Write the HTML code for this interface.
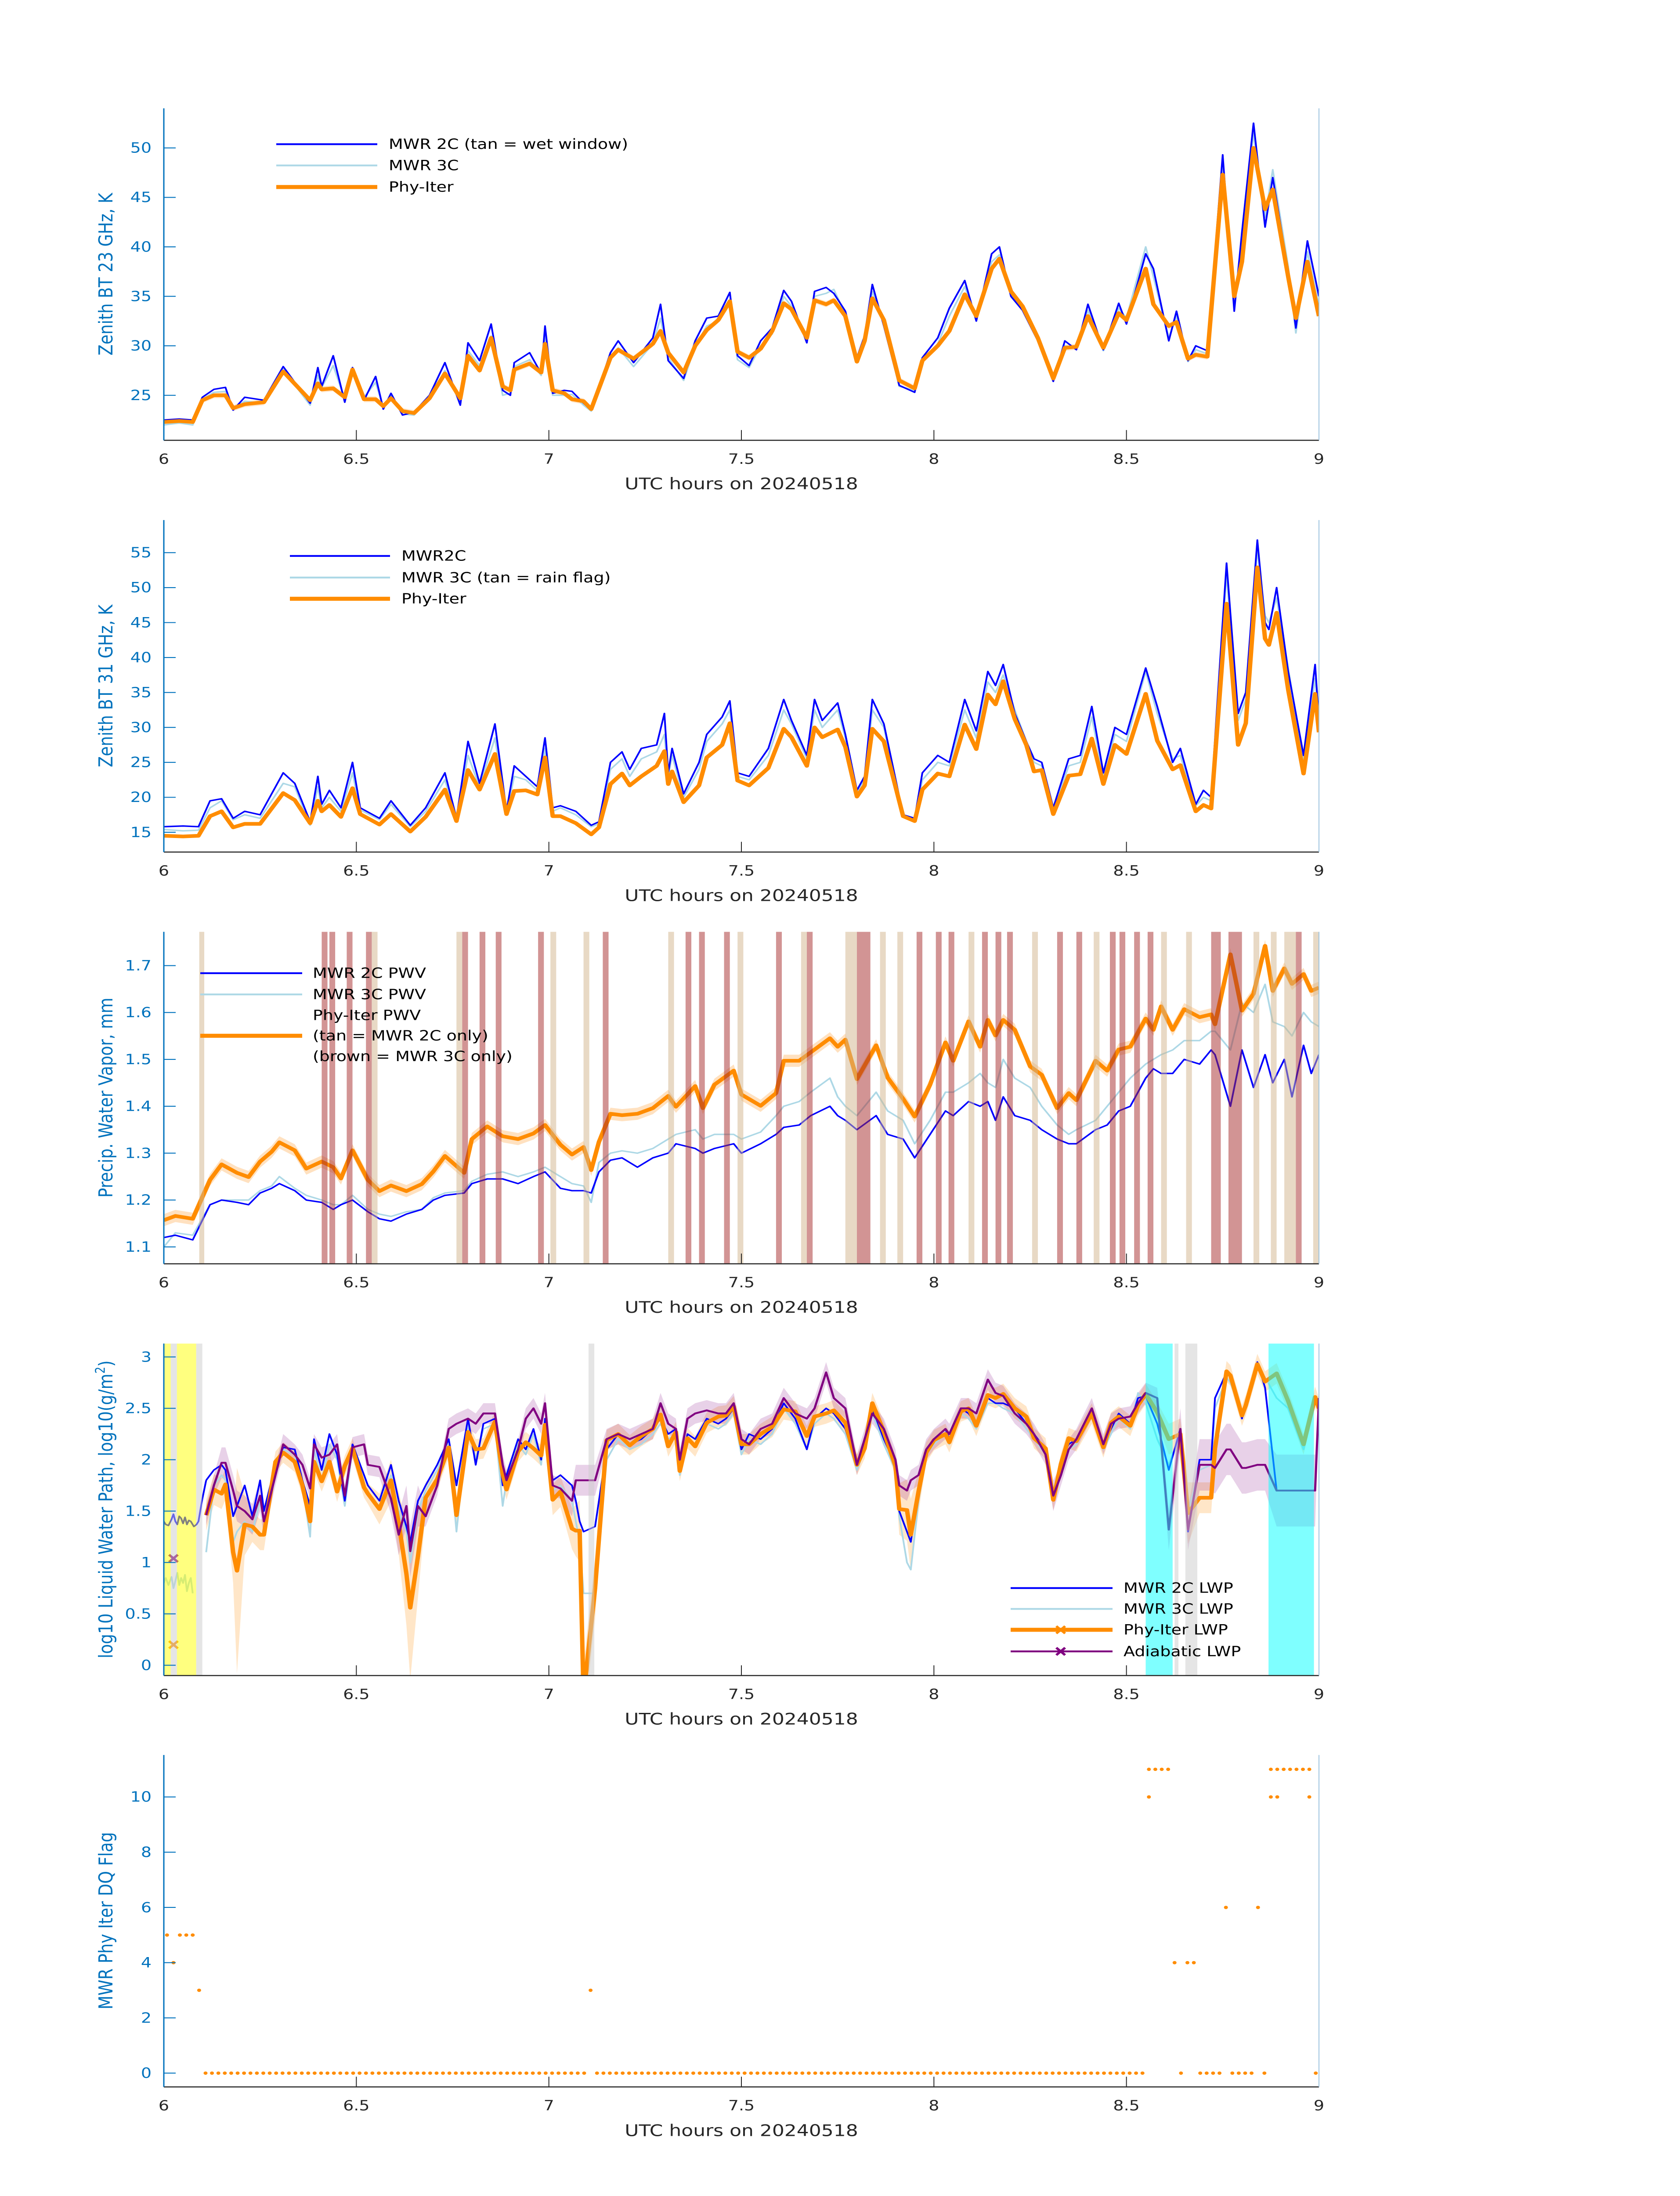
<!DOCTYPE html>
<html><head><meta charset="utf-8"><title>MWR Phy-Iter comparison 20240518</title>
<style>
html,body{margin:0;padding:0;background:#fff;width:100%;height:100%;overflow:hidden;}
svg{display:block;position:fixed;left:0;top:0;width:100vw;height:100vh;font-family:"DejaVu Sans","Liberation Sans",sans-serif;}
</style></head>
<body>
<svg id="chart" xmlns="http://www.w3.org/2000/svg" viewBox="0 0 3825 6000" preserveAspectRatio="none">
<rect x="0" y="0" width="3825" height="6000" fill="#ffffff"/>
<defs>
<clipPath id="clip0"><rect x="373" y="296" width="2630" height="907"/></clipPath>
<clipPath id="clip1"><rect x="373" y="1421" width="2630" height="907"/></clipPath>
<clipPath id="clip2"><rect x="373" y="2546" width="2630" height="907"/></clipPath>
<clipPath id="clip3"><rect x="373" y="3671" width="2630" height="907"/></clipPath>
<clipPath id="clip4"><rect x="373" y="4795" width="2630" height="907"/></clipPath>
</defs>
<g fill="#0072BD" font-size="44" text-anchor="middle">
<text transform="translate(256,749) rotate(-90)">Zenith BT 23 GHz, K</text>
<text transform="translate(256,1874) rotate(-90)">Zenith BT 31 GHz, K</text>
<text transform="translate(256,2999) rotate(-90)">Precip. Water Vapor, mm</text>
<text transform="translate(256,4124) rotate(-90)">log10 Liquid Water Path, log10(g/m<tspan baseline-shift="super" font-size="30">2</tspan>)</text>
<text transform="translate(256,5248) rotate(-90)">MWR Phy Iter DQ Flag</text>
</g>
<g fill="#262626" font-size="44" text-anchor="middle">
<text x="1688" y="1337">UTC hours on 20240518</text>
<text x="1688" y="2462">UTC hours on 20240518</text>
<text x="1688" y="3587">UTC hours on 20240518</text>
<text x="1688" y="4712">UTC hours on 20240518</text>
<text x="1688" y="5836">UTC hours on 20240518</text>
</g>
<g id="marks"></g>
<g font-size="38" fill="#000">
<line x1="629" y1="394" x2="859" y2="394" stroke="#0000FF" stroke-width="5"/>
<text x="885" y="407">MWR 2C (tan = wet window)</text>
<line x1="629" y1="452" x2="859" y2="452" stroke="#ADD8E6" stroke-width="5"/>
<text x="885" y="465">MWR 3C</text>
<line x1="629" y1="511" x2="859" y2="511" stroke="#FF8C00" stroke-width="11"/>
<text x="885" y="524">Phy-Iter</text>
</g>
<g font-size="38" fill="#000">
<line x1="660" y1="1519" x2="888" y2="1519" stroke="#0000FF" stroke-width="5"/>
<text x="914" y="1532">MWR2C</text>
<line x1="660" y1="1578" x2="888" y2="1578" stroke="#ADD8E6" stroke-width="5"/>
<text x="914" y="1591">MWR 3C (tan = rain flag)</text>
<line x1="660" y1="1636" x2="888" y2="1636" stroke="#FF8C00" stroke-width="11"/>
<text x="914" y="1649">Phy-Iter</text>
</g>
<g font-size="38" fill="#000">
<line x1="456" y1="2659" x2="688" y2="2659" stroke="#0000FF" stroke-width="5"/>
<text x="712" y="2672">MWR 2C PWV</text>
<line x1="456" y1="2717" x2="688" y2="2717" stroke="#ADD8E6" stroke-width="5"/>
<text x="712" y="2730">MWR 3C PWV</text>
<text x="712" y="2787">Phy-Iter PWV</text>
<line x1="456" y1="2830" x2="688" y2="2830" stroke="#FF8C00" stroke-width="11"/>
<text x="712" y="2843">(tan = MWR 2C only)</text>
<text x="712" y="2899">(brown = MWR 3C only)</text>
</g>
<g font-size="38" fill="#000">
<line x1="2301" y1="4339" x2="2533" y2="4339" stroke="#0000FF" stroke-width="5"/>
<text x="2558" y="4352">MWR 2C LWP</text>
<line x1="2301" y1="4396" x2="2533" y2="4396" stroke="#ADD8E6" stroke-width="5"/>
<text x="2558" y="4409">MWR 3C LWP</text>
<line x1="2301" y1="4453" x2="2533" y2="4453" stroke="#FF8C00" stroke-width="11"/>
<path d="M2405 4443 L2425 4463 M2425 4443 L2405 4463" stroke="#FF8C00" stroke-width="6"/>
<text x="2558" y="4466">Phy-Iter LWP</text>
<line x1="2301" y1="4512" x2="2533" y2="4512" stroke="#800080" stroke-width="5"/>
<path d="M2405 4502 L2425 4522 M2425 4502 L2405 4522" stroke="#800080" stroke-width="6"/>
<text x="2558" y="4525">Adiabatic LWP</text>
</g>
</svg>
<script>
// ---------- axis settings ----------
const xTicks = [6, 6.5, 7, 7.5, 8, 8.5, 9];
const xTickLabels = ['6', '6.5', '7', '7.5', '8', '8.5', '9'];
const p1Ticks = [25, 30, 35, 40, 45, 50];
const p2Ticks = [15, 20, 25, 30, 35, 40, 45, 50, 55];
const p3Ticks = [1.1, 1.2, 1.3, 1.4, 1.5, 1.6, 1.7];
const p4Ticks = [0, 0.5, 1, 1.5, 2, 2.5, 3];
const p5Ticks = [0, 2, 4, 6, 8, 10];

// ---------- panel 1: 23 GHz ----------
const p1Times = [6.0,6.04,6.075,6.10,6.13,6.16,6.18,6.21,6.26,6.31,6.38,6.40,6.41,6.44,6.47,6.49,6.52,6.55,6.57,6.59,6.62,6.65,6.69,6.73,6.77,6.79,6.82,6.85,6.88,6.90,6.91,6.95,6.98,6.99,7.01,7.04,7.06,7.09,7.11,7.16,7.18,7.22,7.27,7.29,7.31,7.35,7.38,7.41,7.44,7.47,7.49,7.52,7.55,7.58,7.61,7.63,7.67,7.69,7.72,7.74,7.77,7.80,7.82,7.84,7.87,7.91,7.95,7.97,8.01,8.04,8.08,8.11,8.15,8.17,8.20,8.23,8.27,8.31,8.34,8.37,8.40,8.44,8.48,8.50,8.55,8.57,8.61,8.63,8.66,8.68,8.71,8.75,8.78,8.80,8.83,8.86,8.88,8.92,8.94,8.97,9.0];
const p1Phy = [22.3,22.4,22.3,24.5,25.0,25.0,23.7,24.1,24.3,27.4,24.5,26.2,25.6,25.7,24.8,27.6,24.6,24.6,23.9,24.7,23.4,23.2,24.7,27.2,24.7,29.0,27.5,30.8,25.9,25.5,27.6,28.2,27.3,30.2,25.5,25.2,24.6,24.4,23.6,28.8,29.6,28.7,30.2,31.5,29.3,27.3,30.0,31.6,32.6,34.5,29.4,28.8,29.7,31.5,34.3,33.7,30.8,34.6,34.2,34.6,33.0,28.4,30.5,34.8,32.6,26.5,25.7,28.5,30.0,31.5,35.2,33.0,37.8,38.8,35.5,34.0,30.8,26.7,29.8,29.9,33.0,29.8,33.3,32.6,37.8,34.2,32.0,32.4,28.7,29.1,28.9,47.3,35.0,38.5,50.0,43.8,45.8,37.0,32.8,38.5,33.0];
const p1Mwr2c = [22.5,22.6,22.5,24.8,25.6,25.8,23.5,24.8,24.5,27.9,24.2,27.8,25.9,29.0,24.3,27.8,24.5,26.9,23.6,25.2,23.0,23.3,25.0,28.3,24.0,30.3,28.5,32.2,25.5,25.0,28.3,29.3,27.2,32.0,25.2,25.5,25.4,24.2,23.5,29.3,30.5,28.3,30.8,34.2,28.5,26.7,30.5,32.8,33.0,35.4,29.0,28.0,30.5,31.8,35.6,34.5,30.3,35.5,35.9,35.3,33.5,28.8,31.0,36.2,32.0,26.0,25.3,28.8,30.8,33.8,36.6,32.5,39.3,40.0,35.0,33.6,30.5,26.4,30.5,29.6,34.2,29.6,34.3,32.2,39.3,37.8,30.5,33.5,28.5,30.0,29.5,49.3,33.5,41.5,52.5,42.0,47.0,37.5,31.8,40.6,35.0];
const p1Mwr3c = [22.0,22.2,22.0,24.6,25.3,25.4,23.6,24.4,24.2,27.6,24.0,27.0,25.8,28.0,24.6,27.3,24.8,26.3,23.8,24.9,23.1,23.0,24.8,27.5,24.2,29.5,28.0,31.0,25.0,25.2,27.9,28.6,27.0,31.0,25.0,25.0,25.1,24.0,23.4,28.6,29.8,27.9,30.2,32.8,28.8,26.5,30.0,32.0,32.5,34.7,28.6,27.8,30.0,31.2,35.0,34.0,30.5,35.0,35.3,35.7,33.2,28.5,30.7,35.5,32.3,25.9,25.5,28.6,30.2,33.0,36.0,32.8,38.5,39.2,35.2,33.8,30.6,26.5,30.0,29.8,33.6,29.5,33.8,32.8,40.0,37.0,30.8,33.0,28.4,29.6,29.2,48.5,34.0,41.0,51.5,43.0,47.8,38.0,31.3,39.5,34.0];
const p1PhyErr = 0.3;

// ---------- panel 2: 31 GHz ----------
const p2Times = [6.0,6.05,6.09,6.12,6.15,6.18,6.21,6.25,6.31,6.34,6.38,6.40,6.41,6.43,6.46,6.49,6.51,6.56,6.59,6.64,6.68,6.73,6.76,6.79,6.82,6.86,6.89,6.91,6.94,6.97,6.99,7.01,7.03,7.07,7.11,7.13,7.16,7.19,7.21,7.24,7.28,7.30,7.31,7.32,7.35,7.39,7.41,7.45,7.47,7.49,7.52,7.57,7.61,7.63,7.67,7.69,7.71,7.75,7.77,7.80,7.82,7.84,7.87,7.92,7.95,7.97,8.01,8.04,8.08,8.11,8.14,8.16,8.18,8.21,8.24,8.26,8.28,8.31,8.35,8.38,8.41,8.44,8.47,8.50,8.55,8.58,8.62,8.64,8.68,8.70,8.72,8.76,8.79,8.81,8.84,8.86,8.87,8.89,8.92,8.96,8.99,9.0];
const p2Phy = [14.5,14.4,14.5,17.3,18.0,15.7,16.2,16.2,20.6,19.6,16.3,19.5,18.0,18.9,17.2,21.3,17.6,16.1,17.6,15.1,17.2,21.1,16.6,23.9,21.1,26.2,17.6,20.9,21.0,20.4,25.7,17.3,17.3,16.3,14.7,15.7,21.9,23.4,21.7,23.0,24.5,26.6,21.9,23.7,19.3,21.7,25.7,27.5,30.6,22.4,21.7,24.2,29.8,28.6,24.5,30.0,28.6,29.7,27.2,20.1,21.7,29.8,28.0,17.3,16.6,21.1,23.4,23.0,30.4,26.9,34.7,33.3,36.6,31.2,27.5,23.7,23.9,17.6,23.1,23.3,28.4,21.9,27.5,26.2,34.8,28.1,24.0,24.6,18.0,18.9,18.4,47.7,27.5,30.6,52.9,42.7,41.8,46.4,35.4,23.4,34.8,29.3];
const p2Mwr2c = [15.8,15.9,15.8,19.5,19.8,17.0,18.0,17.5,23.5,22.0,16.5,23.0,19.0,21.0,18.5,25.0,18.5,17.0,19.5,16.0,18.5,23.5,17.0,28.0,22.0,30.5,18.0,24.5,23.0,21.5,28.5,18.5,18.8,18.0,16.0,16.5,25.0,26.5,24.0,27.0,27.5,32.0,23.5,27.0,20.5,25.0,29.0,31.5,33.8,23.5,23.0,27.0,34.0,31.0,26.0,34.0,31.0,33.5,29.0,21.0,23.0,34.0,30.5,17.5,17.0,23.5,26.0,25.0,34.0,29.5,38.0,36.0,39.0,32.0,28.0,25.5,25.0,18.5,25.5,26.0,33.0,23.5,30.0,29.0,38.5,33.0,25.0,27.0,19.0,21.0,20.0,53.5,32.0,35.0,56.8,45.0,44.0,50.0,38.0,26.0,39.0,31.0];
const p2Mwr3c = [15.4,15.2,15.3,18.5,19.5,16.8,17.5,17.0,22.0,21.5,16.0,21.5,18.5,20.0,18.0,23.5,18.2,16.8,19.0,15.8,18.0,22.5,17.0,26.0,21.5,28.5,17.8,23.0,22.5,21.0,27.0,18.0,18.5,17.5,15.8,16.2,24.0,25.5,23.0,25.5,26.5,29.0,23.0,26.0,20.0,24.0,28.0,30.5,32.5,23.0,22.5,26.0,32.5,30.5,25.5,32.5,30.0,32.5,28.5,20.8,22.5,32.5,30.0,17.5,17.0,22.5,25.0,24.5,32.5,28.5,36.5,35.0,37.5,32.5,28.0,25.0,24.5,18.2,24.5,25.0,31.5,23.0,29.0,28.0,38.0,32.0,25.5,26.0,18.8,20.0,19.5,52.0,31.0,34.0,55.5,46.0,45.0,48.5,38.5,25.0,37.0,31.5];

// ---------- panel 3: PWV ----------
const p3Times = [6.0,6.03,6.075,6.12,6.15,6.19,6.22,6.25,6.28,6.30,6.34,6.37,6.41,6.44,6.46,6.49,6.53,6.56,6.59,6.63,6.67,6.70,6.73,6.78,6.80,6.84,6.88,6.92,6.96,6.99,7.03,7.06,7.09,7.11,7.13,7.16,7.19,7.23,7.27,7.31,7.33,7.38,7.40,7.43,7.48,7.50,7.55,7.59,7.61,7.65,7.68,7.73,7.75,7.77,7.80,7.85,7.88,7.92,7.95,7.99,8.03,8.05,8.09,8.12,8.14,8.16,8.18,8.21,8.25,8.28,8.32,8.35,8.37,8.42,8.45,8.48,8.51,8.55,8.57,8.59,8.62,8.65,8.69,8.72,8.73,8.77,8.80,8.83,8.86,8.88,8.91,8.93,8.96,8.98,9.0];
const p3Phy = [1.157,1.166,1.160,1.243,1.276,1.258,1.249,1.282,1.303,1.323,1.306,1.267,1.282,1.270,1.246,1.306,1.243,1.219,1.231,1.219,1.234,1.261,1.294,1.258,1.330,1.357,1.336,1.330,1.342,1.360,1.318,1.297,1.313,1.264,1.324,1.384,1.381,1.384,1.396,1.422,1.399,1.443,1.396,1.446,1.476,1.425,1.401,1.428,1.497,1.497,1.515,1.545,1.527,1.542,1.458,1.530,1.461,1.416,1.378,1.446,1.536,1.497,1.581,1.527,1.584,1.551,1.584,1.563,1.485,1.467,1.396,1.428,1.413,1.497,1.476,1.521,1.527,1.587,1.563,1.613,1.563,1.607,1.590,1.596,1.575,1.724,1.604,1.640,1.742,1.646,1.694,1.661,1.682,1.646,1.653];
const p3Mwr2c = [1.12,1.125,1.115,1.19,1.20,1.195,1.19,1.215,1.225,1.235,1.22,1.20,1.195,1.18,1.19,1.20,1.175,1.16,1.155,1.17,1.18,1.20,1.21,1.215,1.235,1.245,1.245,1.235,1.25,1.26,1.225,1.22,1.22,1.215,1.26,1.285,1.29,1.27,1.29,1.30,1.32,1.31,1.30,1.31,1.32,1.30,1.32,1.34,1.355,1.36,1.38,1.40,1.38,1.37,1.35,1.38,1.34,1.33,1.29,1.34,1.39,1.38,1.41,1.40,1.41,1.37,1.42,1.38,1.37,1.35,1.33,1.32,1.32,1.35,1.36,1.39,1.40,1.46,1.48,1.47,1.47,1.50,1.49,1.52,1.51,1.40,1.52,1.44,1.51,1.45,1.50,1.42,1.53,1.47,1.51];
const p3Mwr3c = [1.10,1.13,1.125,1.19,1.20,1.20,1.20,1.22,1.23,1.25,1.225,1.21,1.20,1.19,1.19,1.21,1.18,1.17,1.165,1.175,1.18,1.205,1.215,1.22,1.24,1.255,1.26,1.25,1.26,1.27,1.25,1.235,1.23,1.195,1.28,1.30,1.305,1.30,1.31,1.33,1.34,1.35,1.33,1.34,1.34,1.33,1.345,1.38,1.40,1.41,1.43,1.46,1.42,1.40,1.38,1.43,1.39,1.37,1.32,1.37,1.43,1.43,1.45,1.47,1.45,1.44,1.50,1.46,1.44,1.40,1.36,1.34,1.35,1.37,1.40,1.43,1.46,1.49,1.50,1.51,1.52,1.54,1.54,1.56,1.56,1.52,1.62,1.60,1.66,1.58,1.57,1.55,1.60,1.58,1.57];
const p3PhyErr = 0.013;
const p3BandStart = [6.092,6.41,6.43,6.475,6.525,6.54,6.76,6.775,6.82,6.862,6.972,7.004,7.09,7.14,7.31,7.355,7.39,7.455,7.49,7.59,7.655,7.67,7.77,7.80,7.86,7.905,7.955,8.005,8.038,8.09,8.125,8.16,8.19,8.255,8.32,8.37,8.415,8.457,8.482,8.52,8.555,8.59,8.655,8.72,8.765,8.83,8.875,8.91,8.94,8.985];
const p3BandEnd   = [6.105,6.425,6.445,6.49,6.54,6.555,6.775,6.79,6.835,6.877,6.987,7.019,7.105,7.155,7.325,7.37,7.405,7.47,7.505,7.605,7.67,7.685,7.80,7.835,7.875,7.92,7.97,8.02,8.053,8.105,8.14,8.175,8.205,8.27,8.335,8.385,8.43,8.472,8.497,8.535,8.57,8.605,8.67,8.745,8.80,8.845,8.89,8.94,8.955,9.0];
const p3BandKind  = ['tan','brown','brown','brown','brown','tan','tan','brown','brown','brown','brown','tan','tan','brown','tan','brown','brown','brown','tan','brown','tan','brown','tan','brown','tan','tan','brown','brown','brown','tan','brown','brown','brown','tan','brown','brown','tan','brown','brown','brown','brown','tan','tan','brown','brown','tan','tan','tan','brown','tan'];

// ---------- panel 4: LWP ----------
const p4PreTimes = [6.0,6.005,6.012,6.02,6.025,6.03,6.035,6.04,6.045,6.05,6.055,6.06,6.065,6.07,6.078,6.085,6.09,6.10,6.11];
const p4PreMwr2c = [1.40,1.37,1.36,1.42,1.47,1.40,1.37,1.45,1.43,1.38,1.44,1.37,1.41,1.40,1.35,1.37,1.40,1.62,1.80];
const p4PreMwr3cTimes = [6.0,6.005,6.012,6.02,6.025,6.03,6.035,6.04,6.045,6.05,6.055,6.06,6.065,6.07,6.075];
const p4PreMwr3c = [0.80,0.85,0.78,0.86,0.75,0.82,0.90,0.78,0.85,0.80,0.88,0.72,0.80,0.85,0.70];
const p4Times = [6.11,6.13,6.15,6.16,6.18,6.19,6.21,6.23,6.25,6.26,6.29,6.31,6.34,6.36,6.38,6.39,6.41,6.43,6.45,6.47,6.49,6.52,6.53,6.56,6.59,6.61,6.63,6.64,6.66,6.68,6.71,6.74,6.76,6.79,6.81,6.83,6.86,6.88,6.89,6.92,6.94,6.96,6.98,6.99,7.01,7.03,7.06,7.07,7.08,7.09,7.12,7.15,7.18,7.21,7.24,7.27,7.29,7.31,7.33,7.34,7.36,7.38,7.41,7.44,7.46,7.48,7.50,7.52,7.55,7.58,7.61,7.64,7.67,7.69,7.72,7.74,7.77,7.80,7.82,7.84,7.87,7.90,7.91,7.93,7.94,7.96,7.98,8.00,8.03,8.04,8.07,8.09,8.11,8.14,8.16,8.18,8.21,8.24,8.26,8.29,8.31,8.33,8.35,8.37,8.41,8.44,8.46,8.48,8.51,8.53,8.55,8.58,8.61,8.64,8.66,8.69,8.72,8.73,8.76,8.77,8.80,8.81,8.84,8.86,8.89,8.92,8.96,8.99,9.0];
const p4Phy = [1.46,1.71,1.67,1.76,1.10,0.92,1.37,1.35,1.27,1.27,1.98,2.07,1.98,1.75,1.40,1.98,1.79,1.98,1.69,1.94,2.11,1.73,1.67,1.52,1.80,1.38,0.89,0.56,1.06,1.63,1.81,2.12,1.46,2.27,2.10,2.11,2.37,1.86,1.71,2.08,2.17,2.11,2.04,2.34,1.61,1.69,1.33,1.31,1.31,-0.3,0.75,2.19,2.25,2.14,2.23,2.30,2.44,2.13,2.27,1.89,2.21,2.13,2.36,2.42,2.43,2.52,2.15,2.15,2.25,2.32,2.49,2.47,2.23,2.42,2.45,2.48,2.36,1.95,2.11,2.55,2.27,1.94,1.52,1.51,1.27,1.69,2.07,2.19,2.25,2.17,2.47,2.50,2.33,2.63,2.60,2.64,2.50,2.42,2.21,2.11,1.61,1.96,2.21,2.18,2.45,2.12,2.36,2.42,2.33,2.53,2.64,2.46,2.20,2.25,1.48,1.63,1.63,2.11,2.86,2.82,2.43,2.53,2.93,2.76,2.84,2.57,2.15,2.61,2.50];
const p4PhyErr = [0.15,0.15,0.15,0.15,0.3,1.0,0.3,0.15,0.15,0.15,0.1,0.1,0.1,0.1,0.1,0.1,0.1,0.1,0.1,0.1,0.1,0.1,0.1,0.15,0.2,0.3,0.5,0.7,0.4,0.15,0.1,0.1,0.1,0.1,0.1,0.1,0.1,0.1,0.1,0.1,0.1,0.1,0.1,0.1,0.15,0.15,0.2,0.25,0.3,0.3,0.3,0.1,0.1,0.1,0.1,0.1,0.1,0.1,0.1,0.1,0.1,0.1,0.1,0.1,0.1,0.1,0.1,0.1,0.1,0.1,0.1,0.1,0.1,0.1,0.1,0.1,0.1,0.1,0.1,0.1,0.1,0.1,0.25,0.3,0.35,0.2,0.1,0.1,0.1,0.1,0.1,0.1,0.1,0.1,0.1,0.1,0.1,0.1,0.1,0.1,0.1,0.1,0.1,0.1,0.1,0.1,0.1,0.1,0.1,0.1,0.1,0.1,0.15,0.15,0.3,0.15,0.15,0.1,0.1,0.1,0.1,0.1,0.1,0.1,0.1,0.1,0.1,0.1,0.1];
const p4Adiabatic = [1.46,1.75,1.97,1.97,1.70,1.55,1.50,1.42,1.65,1.40,1.85,2.15,2.05,1.95,1.72,2.15,2.02,2.05,2.15,1.65,2.12,2.15,1.95,1.93,1.62,1.27,1.55,1.11,1.55,1.45,1.75,2.30,2.35,2.40,2.35,2.45,2.45,1.95,1.80,2.10,2.40,2.50,2.35,2.55,1.75,1.72,1.60,1.80,1.80,1.80,1.80,2.20,2.25,2.20,2.25,2.30,2.55,2.35,2.30,2.00,2.40,2.45,2.48,2.45,2.45,2.55,2.20,2.15,2.30,2.35,2.60,2.45,2.40,2.50,2.85,2.60,2.50,1.95,2.20,2.45,2.30,2.00,1.75,1.70,1.80,1.85,2.10,2.20,2.30,2.25,2.50,2.50,2.45,2.78,2.65,2.62,2.45,2.35,2.25,2.05,1.65,1.85,2.10,2.20,2.50,2.15,2.35,2.40,2.42,2.55,2.65,2.60,1.32,2.30,1.32,1.95,1.95,1.92,2.10,2.10,1.92,1.92,1.95,1.95,1.70,1.70,1.70,1.70,2.60];
const p4AdiabaticErr = [0.1,0.1,0.15,0.15,0.15,0.15,0.15,0.15,0.15,0.15,0.1,0.1,0.1,0.1,0.1,0.1,0.1,0.1,0.1,0.1,0.1,0.1,0.1,0.1,0.15,0.2,0.2,0.25,0.2,0.1,0.1,0.1,0.1,0.1,0.1,0.1,0.1,0.1,0.1,0.1,0.1,0.1,0.1,0.1,0.1,0.1,0.15,0.15,0.15,0.15,0.15,0.1,0.1,0.1,0.1,0.1,0.1,0.1,0.1,0.1,0.1,0.1,0.1,0.1,0.1,0.1,0.1,0.1,0.1,0.1,0.1,0.1,0.1,0.1,0.1,0.1,0.1,0.1,0.1,0.1,0.1,0.1,0.1,0.1,0.1,0.1,0.1,0.1,0.1,0.1,0.1,0.1,0.1,0.1,0.1,0.1,0.1,0.1,0.1,0.1,0.15,0.1,0.1,0.1,0.1,0.1,0.1,0.1,0.1,0.1,0.1,0.1,0.2,0.2,0.2,0.25,0.25,0.25,0.25,0.25,0.25,0.25,0.25,0.25,0.35,0.35,0.35,0.35,0.1];
const p4Mwr2c = [1.80,1.90,1.95,1.90,1.45,1.55,1.75,1.45,1.80,1.50,1.95,2.12,2.10,1.80,1.55,2.20,1.90,2.25,2.05,1.60,2.15,1.85,1.75,1.60,1.95,1.60,1.35,1.20,1.60,1.75,1.95,2.20,1.75,2.40,1.95,2.35,2.40,1.75,1.85,2.20,2.10,2.30,2.00,2.40,1.80,1.85,1.75,1.60,1.40,1.30,1.35,2.10,2.25,2.15,2.20,2.30,2.40,2.25,2.30,1.90,2.25,2.20,2.40,2.35,2.40,2.50,2.10,2.25,2.20,2.30,2.55,2.40,2.10,2.40,2.50,2.45,2.30,1.95,2.15,2.50,2.20,1.95,1.50,1.30,1.20,1.70,2.10,2.20,2.30,2.20,2.50,2.45,2.35,2.60,2.55,2.55,2.50,2.35,2.25,2.10,1.60,2.00,2.15,2.20,2.50,2.15,2.30,2.45,2.35,2.60,2.62,2.35,1.90,2.30,1.30,2.00,2.00,2.60,2.85,2.80,2.40,2.55,2.95,2.70,1.70,1.70,1.70,1.70,2.60];
const p4Mwr3c = [1.10,1.75,1.85,1.80,1.20,1.30,1.40,1.30,1.60,1.40,1.90,2.10,2.05,1.75,1.25,2.10,1.80,2.15,2.00,1.55,2.10,1.75,1.65,1.55,1.85,1.50,1.30,1.00,1.50,1.70,1.90,2.15,1.30,2.35,2.00,2.30,2.35,1.55,1.80,2.15,2.05,2.25,1.95,2.35,1.70,1.75,1.60,1.40,1.20,0.70,0.70,2.00,2.20,2.10,2.15,2.25,2.35,2.20,2.25,1.85,2.20,2.15,2.35,2.30,2.35,2.45,2.05,2.20,2.15,2.25,2.50,2.35,2.10,2.35,2.45,2.40,2.25,1.90,2.10,2.45,2.15,1.90,1.45,1.00,0.93,1.60,2.05,2.15,2.25,2.15,2.45,2.40,2.30,2.55,2.55,2.50,2.45,2.30,2.20,2.05,1.70,1.95,2.10,2.15,2.45,2.10,2.25,2.40,2.30,2.65,2.55,2.20,1.95,2.25,1.50,1.90,1.95,2.50,2.80,2.75,2.45,2.50,2.90,2.80,2.60,2.50,2.10,2.55,2.55];
const p4MarkerTimes = [6.025, 6.025];
const p4MarkerValues = [1.04, 0.2];
const p4MarkerKinds = ['adiabatic', 'phyiter'];
const p4BandStart = [6.0,6.018,6.034,6.084,7.103,8.55,8.625,8.653,8.869];
const p4BandEnd   = [6.018,6.034,6.084,6.100,7.118,8.62,8.635,8.684,8.987];
const p4BandKind  = ['yellow','gray','yellow','gray','gray','cyan','gray','gray','cyan'];

// ---------- panel 5: DQ flag (one value per minute from 6 UTC) ----------
const p5Flags = [5,4,5,5,5,3,
 0,0,0,0,0,0,0,0,0,0,0,0,0,0,0,0,0,0,0,0,
 0,0,0,0,0,0,0,0,0,0,0,0,0,0,0,0,0,0,0,0,
 0,0,0,0,0,0,0,0,0,0,0,0,0,0,0,0,0,0,0,0,
 3,
 0,0,0,0,0,0,0,0,0,0,0,0,0,0,0,0,0,0,0,0,
 0,0,0,0,0,0,0,0,0,0,0,0,0,0,0,0,0,0,0,0,
 0,0,0,0,0,0,0,0,0,0,0,0,0,0,0,0,0,0,0,0,
 0,0,0,0,0,0,0,0,0,0,0,0,0,0,0,0,0,0,0,0,
 0,0,0,0,0,0,
 11,11,11,11,4,0,4,4,0,0,0,0,6,0,0,0,0,6,0,11,11,11,11,11,11,11,0];
const p5ExtraMinutes = [153, 172, 173, 178];
const p5ExtraFlags = [10, 10, 10, 10];

// ---------- drawing ----------
const NS = 'http://www.w3.org/2000/svg';
const marks = document.getElementById('marks');
const XL = 373, XW = 2630, PH = 907;
const panels = [
  {top: 296, min: 20.45, max: 54.0},
  {top: 1421, min: 12.17, max: 59.66},
  {top: 2546, min: 1.064, max: 1.772},
  {top: 3671, min: -0.10, max: 3.13},
  {top: 4795, min: -0.5, max: 11.52}
];
function X(h) { return XL + (h - 6) / 3 * XW; }
function Y(p, v) { const P = panels[p]; return P.top + (P.max - v) / (P.max - P.min) * PH; }
function mk(tag, attrs, parent) {
  const e = document.createElementNS(NS, tag);
  for (const k in attrs) e.setAttribute(k, attrs[k]);
  (parent || marks).appendChild(e);
  return e;
}
function pathD(p, xs, ys) {
  return xs.map((x, i) => (i ? 'L' : 'M') + X(x).toFixed(1) + ' ' + Y(p, ys[i]).toFixed(1)).join(' ');
}
function bandD(p, xs, ys, err) {
  const e = i => Array.isArray(err) ? err[i] : err;
  let d = xs.map((x, i) => (i ? 'L' : 'M') + X(x).toFixed(1) + ' ' + Y(p, ys[i] + e(i)).toFixed(1)).join(' ');
  for (let i = xs.length - 1; i >= 0; i--) d += ' L' + X(xs[i]).toFixed(1) + ' ' + Y(p, ys[i] - e(i)).toFixed(1);
  return d + ' Z';
}
function drawLine(p, xs, ys, color, w, name) {
  const e = mk('path', {d: pathD(p, xs, ys), fill: 'none', stroke: color, 'stroke-width': w, 'stroke-linejoin': 'round', 'clip-path': 'url(#clip' + p + ')'});
  
  
  return e;
}
function drawBand(p, xs, ys, err, color, op, name) {
  const e = mk('path', {d: bandD(p, xs, ys, err), fill: color, 'fill-opacity': op, stroke: 'none', 'clip-path': 'url(#clip' + p + ')'});
  
  
  return e;
}
function drawAxes(p, yTicks, pname) {
  const P = panels[p];
  const bottom = P.top + PH;
  const g = mk('g', {});
  
  
  yTicks.forEach(v => {
    const y = Y(p, v);
    const t = mk('line', {x1: XL, x2: XL + 27, y1: y, y2: y, stroke: '#0072BD', 'stroke-width': 2.5}, g);
    
    
    const lb = mk('text', {x: 345, y: y + 13, 'text-anchor': 'end', 'font-size': 38, fill: '#0072BD'}, g);
    lb.textContent = String(v);
    
    
  });
  xTicks.forEach((v, i) => {
    const x = X(v);
    const t = mk('line', {x1: x, x2: x, y1: bottom, y2: bottom - 28, stroke: '#262626', 'stroke-width': 2}, g);
    
    
    const lb = mk('text', {x: x, y: bottom + 64, 'text-anchor': 'middle', 'font-size': 38, fill: '#262626'}, g);
    lb.textContent = xTickLabels[i];
    
    
  });
  const xa = mk('line', {x1: XL, x2: XL + XW, y1: bottom, y2: bottom, stroke: '#262626', 'stroke-width': 3}, g);
  
  
  const ya = mk('line', {x1: XL, x2: XL, y1: P.top, y2: bottom, stroke: '#0072BD', 'stroke-width': 3}, g);
  
  
  const ra = mk('line', {x1: XL + XW, x2: XL + XW, y1: P.top, y2: bottom, stroke: '#9cc3df', 'stroke-width': 2}, g);
  
  
}

// panel 1
drawBand(0, p1Times, p1Phy, p1PhyErr, '#FFDAB0', 0.7, 'phyiter-uncertainty-bt23');
drawLine(0, p1Times, p1Mwr3c, '#ADD8E6', 4, 'mwr3c-bt23-line');
drawLine(0, p1Times, p1Mwr2c, '#0000FF', 4, 'mwr2c-bt23-line');
drawLine(0, p1Times, p1Phy, '#FF8C00', 10, 'phyiter-bt23-line');
drawAxes(0, p1Ticks, 'bt23');

// panel 2
drawLine(1, p2Times, p2Mwr3c, '#ADD8E6', 4, 'mwr3c-bt31-line');
drawLine(1, p2Times, p2Mwr2c, '#0000FF', 4, 'mwr2c-bt31-line');
drawLine(1, p2Times, p2Phy, '#FF8C00', 10, 'phyiter-bt31-line');
drawAxes(1, p2Ticks, 'bt31');

// panel 3
drawBand(2, p3Times, p3Phy, p3PhyErr, '#FFDAB0', 0.8, 'phyiter-pwv-uncertainty');
drawLine(2, p3Times, p3Mwr3c, '#ADD8E6', 4, 'mwr3c-pwv-line');
drawLine(2, p3Times, p3Mwr2c, '#0000FF', 4, 'mwr2c-pwv-line');
drawLine(2, p3Times, p3Phy, '#FF8C00', 10, 'phyiter-pwv-line');
p3BandStart.forEach((s, i) => {
  const r = mk('rect', {x: X(s), y: panels[2].top, width: X(p3BandEnd[i]) - X(s), height: PH,
    fill: p3BandKind[i] === 'tan' ? '#D2B48C' : '#A52A2A', 'fill-opacity': 0.5});
  
  
});
drawAxes(2, p3Ticks, 'pwv');

// panel 4
drawBand(3, p4Times, p4Phy, p4PhyErr, '#FFDDB5', 0.75, 'phyiter-lwp-uncertainty');
drawBand(3, p4Times, p4Adiabatic, p4AdiabaticErr, '#800080', 0.18, 'adiabatic-lwp-uncertainty');
drawLine(3, p4PreMwr3cTimes, p4PreMwr3c, '#ADD8E6', 4, 'mwr3c-lwp-early-line');
drawLine(3, p4PreTimes, p4PreMwr2c, '#0000FF', 4, 'mwr2c-lwp-early-line');
drawLine(3, p4Times, p4Mwr3c, '#ADD8E6', 4, 'mwr3c-lwp-line');
drawLine(3, p4Times, p4Mwr2c, '#0000FF', 4, 'mwr2c-lwp-line');
drawLine(3, p4Times, p4Phy, '#FF8C00', 10, 'phyiter-lwp-line');
drawLine(3, p4Times, p4Adiabatic, '#800080', 5, 'adiabatic-lwp-line');
p4MarkerTimes.forEach((t, i) => {
  const x = X(t), y = Y(3, p4MarkerValues[i]);
  const m = mk('path', {d: `M${x-10} ${y-10} L${x+10} ${y+10} M${x+10} ${y-10} L${x-10} ${y+10}`,
    stroke: p4MarkerKinds[i] === 'adiabatic' ? '#800080' : '#FF8C00', 'stroke-width': 6});
  
  
});
const p4Colors = {yellow: '#FFFF00', gray: '#CCCCCC', cyan: '#00FFFF'};
p4BandStart.forEach((s, i) => {
  const r = mk('rect', {x: X(s), y: panels[3].top, width: X(p4BandEnd[i]) - X(s), height: PH,
    fill: p4Colors[p4BandKind[i]], 'fill-opacity': 0.5});
  
  
});
drawAxes(3, p4Ticks, 'lwp');

// panel 5
p5Flags.forEach((f, m) => {
  const c = mk('circle', {cx: X(6 + (m + 0.5) / 60), cy: Y(4, f), r: 4.5, fill: '#FF8C00', 'clip-path': 'url(#clip4)'});
  
  
});
p5ExtraMinutes.forEach((m, i) => {
  const c = mk('circle', {cx: X(6 + (m + 0.5) / 60), cy: Y(4, p5ExtraFlags[i]), r: 4.5, fill: '#FF8C00', 'clip-path': 'url(#clip4)'});
  
  
});
drawAxes(4, p5Ticks, 'dqflag');
</script>
</body></html>
